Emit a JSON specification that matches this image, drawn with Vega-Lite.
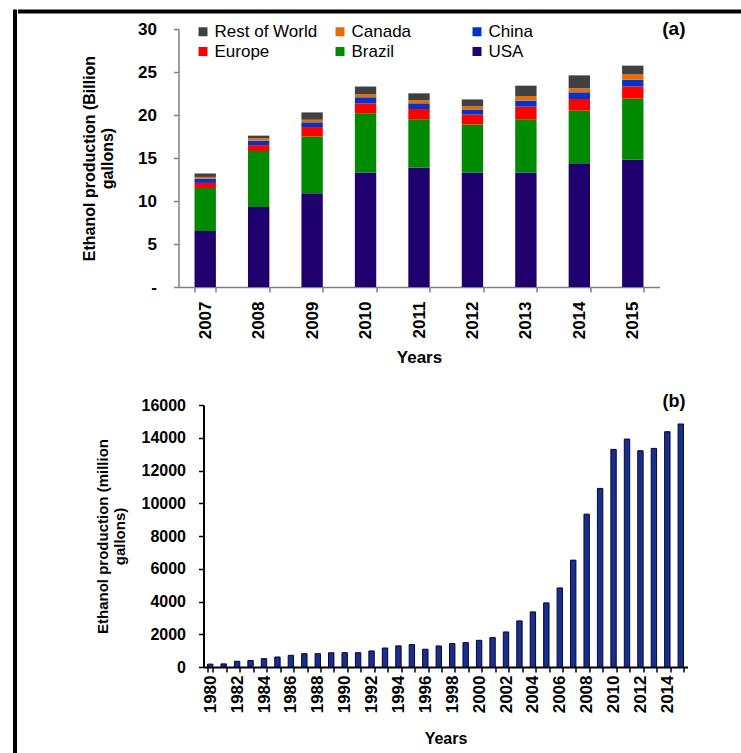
{
  "$schema": "https://vega.github.io/schema/vega-lite/v6.json",
  "background": "white",
  "padding": {"left": 12.5, "top": 9, "right": 0, "bottom": 0},
  "config": {
    "font": "Liberation Sans",
    "view": {"stroke": null},
    "axis": {"grid": false, "labelColor": "black", "titleColor": "black", "labelFont": "Liberation Sans", "titleFont": "Liberation Sans", "labelFontWeight": "bold", "titleFontWeight": "bold"}
  },
  "datasets": {
    "world": [
      {"year": "2007", "region": "USA", "value": 6.5}, {"year": "2007", "region": "Brazil", "value": 5.0}, {"year": "2007", "region": "Europe", "value": 0.6}, {"year": "2007", "region": "China", "value": 0.5}, {"year": "2007", "region": "Canada", "value": 0.2}, {"year": "2007", "region": "Rest of World", "value": 0.4},
      {"year": "2008", "region": "USA", "value": 9.3}, {"year": "2008", "region": "Brazil", "value": 6.5}, {"year": "2008", "region": "Europe", "value": 0.7}, {"year": "2008", "region": "China", "value": 0.5}, {"year": "2008", "region": "Canada", "value": 0.3}, {"year": "2008", "region": "Rest of World", "value": 0.3},
      {"year": "2009", "region": "USA", "value": 10.9}, {"year": "2009", "region": "Brazil", "value": 6.6}, {"year": "2009", "region": "Europe", "value": 1.1}, {"year": "2009", "region": "China", "value": 0.55}, {"year": "2009", "region": "Canada", "value": 0.3}, {"year": "2009", "region": "Rest of World", "value": 0.85},
      {"year": "2010", "region": "USA", "value": 13.3}, {"year": "2010", "region": "Brazil", "value": 6.9}, {"year": "2010", "region": "Europe", "value": 1.16}, {"year": "2010", "region": "China", "value": 0.7}, {"year": "2010", "region": "Canada", "value": 0.35}, {"year": "2010", "region": "Rest of World", "value": 0.9},
      {"year": "2011", "region": "USA", "value": 13.9}, {"year": "2011", "region": "Brazil", "value": 5.6}, {"year": "2011", "region": "Europe", "value": 1.2}, {"year": "2011", "region": "China", "value": 0.66}, {"year": "2011", "region": "Canada", "value": 0.38}, {"year": "2011", "region": "Rest of World", "value": 0.78},
      {"year": "2012", "region": "USA", "value": 13.3}, {"year": "2012", "region": "Brazil", "value": 5.6}, {"year": "2012", "region": "Europe", "value": 1.16}, {"year": "2012", "region": "China", "value": 0.58}, {"year": "2012", "region": "Canada", "value": 0.39}, {"year": "2012", "region": "Rest of World", "value": 0.78},
      {"year": "2013", "region": "USA", "value": 13.3}, {"year": "2013", "region": "Brazil", "value": 6.2}, {"year": "2013", "region": "Europe", "value": 1.47}, {"year": "2013", "region": "China", "value": 0.7}, {"year": "2013", "region": "Canada", "value": 0.54}, {"year": "2013", "region": "Rest of World", "value": 1.2},
      {"year": "2014", "region": "USA", "value": 14.4}, {"year": "2014", "region": "Brazil", "value": 6.1}, {"year": "2014", "region": "Europe", "value": 1.36}, {"year": "2014", "region": "China", "value": 0.78}, {"year": "2014", "region": "Canada", "value": 0.47}, {"year": "2014", "region": "Rest of World", "value": 1.5},
      {"year": "2015", "region": "USA", "value": 14.8}, {"year": "2015", "region": "Brazil", "value": 7.1}, {"year": "2015", "region": "Europe", "value": 1.43}, {"year": "2015", "region": "China", "value": 0.78}, {"year": "2015", "region": "Canada", "value": 0.66}, {"year": "2015", "region": "Rest of World", "value": 0.97}
    ],
    "usa": [
      {"year": 1980, "value": 175}, {"year": 1981, "value": 190}, {"year": 1982, "value": 350}, {"year": 1983, "value": 400},
      {"year": 1984, "value": 510}, {"year": 1985, "value": 610}, {"year": 1986, "value": 710}, {"year": 1987, "value": 815},
      {"year": 1988, "value": 815}, {"year": 1989, "value": 870}, {"year": 1990, "value": 875}, {"year": 1991, "value": 875},
      {"year": 1992, "value": 980}, {"year": 1993, "value": 1160}, {"year": 1994, "value": 1290}, {"year": 1995, "value": 1370},
      {"year": 1996, "value": 1085}, {"year": 1997, "value": 1285}, {"year": 1998, "value": 1430}, {"year": 1999, "value": 1490},
      {"year": 2000, "value": 1630}, {"year": 2001, "value": 1795}, {"year": 2002, "value": 2140}, {"year": 2003, "value": 2815},
      {"year": 2004, "value": 3365}, {"year": 2005, "value": 3915}, {"year": 2006, "value": 4830}, {"year": 2007, "value": 6525},
      {"year": 2008, "value": 9335}, {"year": 2009, "value": 10905}, {"year": 2010, "value": 13290}, {"year": 2011, "value": 13920},
      {"year": 2012, "value": 13205}, {"year": 2013, "value": 13350}, {"year": 2014, "value": 14370}, {"year": 2015, "value": 14840}
    ],
    "blank": [{}]
  },
  "spacing": 0,
  "hconcat": [
    {"width": 1, "height": 760, "data": {"name": "blank"}, "mark": {"type": "rule", "opacity": 0}, "encoding": {}, "view": {"stroke": "black", "strokeWidth": 3}},
    {
      "spacing": 6,
      "vconcat": [
        {"width": 740, "height": 1, "data": {"name": "blank"}, "mark": {"type": "rule", "opacity": 0}, "encoding": {}, "view": {"stroke": "black", "strokeWidth": 3}},
        {
          "spacing": 27,
          "vconcat": [
            {
              "spacing": 0,
              "hconcat": [
                {"width": 61.5, "height": 1, "data": {"name": "blank"}, "mark": {"type": "rule", "opacity": 0}, "encoding": {}},
                {
                  "width": 481,
                  "height": 258,
                  "title": {"text": "(a)", "anchor": "end", "frame": "group", "fontSize": 19, "fontWeight": "bold", "font": "Liberation Sans", "offset": -19, "dx": 26, "color": "black"},
                  "data": {"name": "world"},
                  "transform": [{"calculate": "indexof(['USA','Brazil','Europe','China','Canada','Rest of World'], datum.region)", "as": "stackOrder"}],
                  "mark": {"type": "bar"},
                  "encoding": {
                    "x": {
                      "field": "year", "type": "ordinal",
                      "scale": {"paddingInner": 0.6, "paddingOuter": 0.3},
                      "axis": {"title": "Years", "titleFontSize": 17, "labelAngle": -90, "labelFontSize": 17, "labelPadding": 9, "tickBand": "extent", "tickSize": 5, "domainColor": "#808080", "tickColor": "#808080", "domainWidth": 1.5, "tickWidth": 1.5, "titlePadding": 11}
                    },
                    "y": {
                      "field": "value", "type": "quantitative", "stack": "zero",
                      "scale": {"domain": [0, 30]},
                      "axis": {"values": [0, 5, 10, 15, 20, 25, 30], "labelExpr": "datum.value === 0 ? '-' : datum.label", "title": ["Ethanol production (Billion", "gallons)"], "titleFontSize": 16, "labelFontSize": 17, "tickSize": 5, "domainColor": "#808080", "tickColor": "#808080", "domainWidth": 1.5, "tickWidth": 1.5, "labelPadding": 17, "titlePadding": 22}
                    },
                    "color": {
                      "field": "region", "type": "nominal",
                      "scale": {"domain": ["Rest of World", "Canada", "China", "Europe", "Brazil", "USA"], "range": ["#404040", "#E46C0A", "#0033CC", "#FF0000", "#008A00", "#20006E"]},
                      "legend": {"title": null, "orient": "none", "direction": "horizontal", "legendX": 180, "legendY": 12, "columns": 3, "gridAlign": "all", "columnPadding": 14, "rowPadding": 2, "symbolType": "square", "symbolSize": 81, "symbolStrokeWidth": 0, "labelFontSize": 17, "labelFont": "Liberation Sans", "labelColor": "black", "labelOffset": 3}
                    },
                    "order": {"field": "stackOrder", "type": "quantitative", "sort": "ascending"}
                  }
                }
              ]
            },
            {
              "spacing": 0,
              "hconcat": [
                {"width": 74.5, "height": 1, "data": {"name": "blank"}, "mark": {"type": "rule", "opacity": 0}, "encoding": {}},
                {
                  "width": 484,
                  "height": 262,
                  "title": {"text": "(b)", "anchor": "end", "frame": "group", "fontSize": 18, "fontWeight": "bold", "font": "Liberation Sans", "offset": -14, "dx": -2, "color": "black"},
                  "data": {"name": "usa"},
                  "mark": {"type": "bar", "color": "#1A2E8C", "stroke": "#050530", "strokeWidth": 1},
                  "encoding": {
                    "x": {
                      "field": "year", "type": "ordinal",
                      "scale": {"paddingInner": 0.6, "paddingOuter": 0.3},
                      "axis": {"title": "Years", "titleFontSize": 16, "labelAngle": -90, "labelFontSize": 17, "labelPadding": 3, "labelOverlap": false, "labelExpr": "datum.value % 2 === 0 ? datum.label : ''", "tickBand": "extent", "tickSize": 5, "domainColor": "black", "tickColor": "black", "domainWidth": 2, "tickWidth": 1.5, "titlePadding": 18}
                    },
                    "y": {
                      "field": "value", "type": "quantitative",
                      "scale": {"domain": [0, 16000]},
                      "axis": {"values": [0, 2000, 4000, 6000, 8000, 10000, 12000, 14000, 16000], "format": "d", "title": ["Ethanol production (million", "gallons)"], "titleFontSize": 15, "labelFontSize": 16, "tickSize": 5, "domainColor": "black", "tickColor": "black", "domainWidth": 2, "tickWidth": 1.5, "labelPadding": 13, "titlePadding": 14}
                    }
                  }
                }
              ]
            }
          ]
        }
      ]
    }
  ]
}
